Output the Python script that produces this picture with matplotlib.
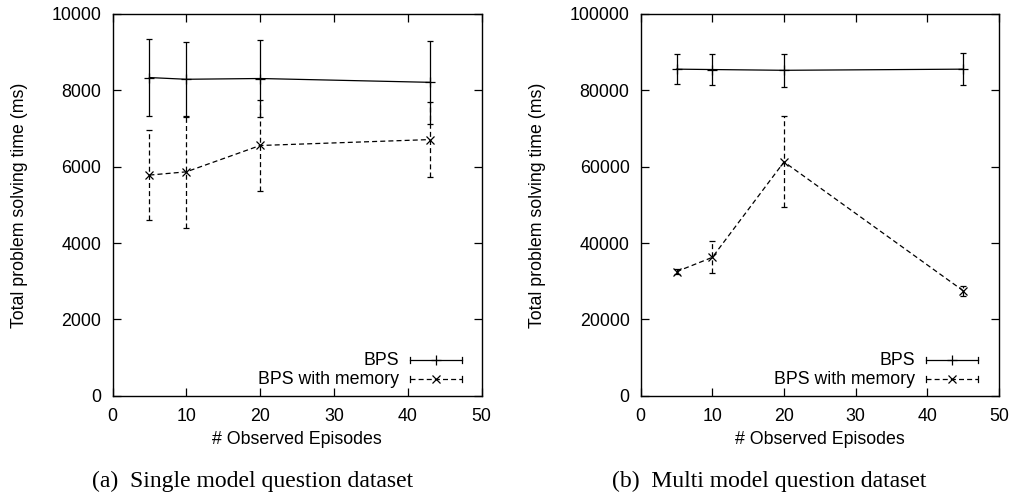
import matplotlib
matplotlib.use("Agg")
import matplotlib.pyplot as plt

# Single model question dataset
single_x_bps = [5, 10, 20, 43]
single_bps = [8335, 8290, 8310, 8210]
single_bps_err = [1000, 980, 1020, 1090]
single_x_mem = [5, 10, 20, 43]
single_mem = [5780, 5865, 6555, 6710]
single_mem_err = [1180, 1465, 1190, 990]

# Multi model question dataset
multi_x_bps = [5, 10, 20, 45]
multi_bps = [85550, 85450, 85250, 85550]
multi_bps_err = [3900, 3980, 4300, 4150]
multi_x_mem = [5, 10, 20, 45]
multi_mem = [32500, 36250, 61250, 27500]
multi_mem_err = [700, 4200, 11900, 1350]

x_ticks = [0, 10, 20, 30, 40, 50]
single_y_ticks = [0, 2000, 4000, 6000, 8000, 10000]
multi_y_ticks = [0, 20000, 40000, 60000, 80000, 100000]

series_labels = ["BPS", "BPS with memory"]
x_label = "# Observed Episodes"
y_label = "Total problem solving time (ms)"
captions = ["(a)  Single model question dataset", "(b)  Multi model question dataset"]

plt.rcParams["font.family"] = ["Liberation Sans", "DejaVu Sans"]

fig = plt.figure(figsize=(10.14, 4.95), dpi=100)
W, H = 1014, 495


def axes_at(x0, y0, x1, y1):
    return fig.add_axes([x0 / W, 1 - y1 / H, (x1 - x0) / W, (y1 - y0) / H])


ax1 = axes_at(112.5, 14, 481.5, 395.7)
ax2 = axes_at(640.7, 14, 999, 395.7)

FS = 12.8
LW = 0.9
CAP = 2.5
DASH = (0, (4, 2.5))


def draw_panel(ax, xb, yb, eb, xm, ym, em, yticks, ymax, legend_text_x,
               legend_line, ylabel_x):
    ax.errorbar(xb, yb, yerr=eb, color="black", lw=LW, elinewidth=LW,
                capsize=CAP, capthick=LW, marker="+", markersize=7, mew=LW)
    cont = ax.errorbar(xm, ym, yerr=em, color="black", lw=LW, elinewidth=LW,
                       capsize=CAP, capthick=LW, marker="x", markersize=6,
                       mew=LW, linestyle=DASH)
    for coll in cont[2]:
        coll.set_linestyle(DASH)

    ax.set_xlim(0, 50)
    ax.set_ylim(0, ymax)
    ax.set_xticks(x_ticks)
    ax.set_yticks(yticks)
    ax.tick_params(direction="in", length=6, width=0.9, top=True, right=True,
                   labelsize=FS, color="black")
    ax.tick_params(axis="y", pad=8)
    ax.tick_params(axis="x", pad=9)
    for s in ax.spines.values():
        s.set_linewidth(1.0)
    ax.set_xlabel(x_label, fontsize=FS)
    ax.set_ylabel(y_label, fontsize=FS)
    ax.xaxis.set_label_coords(0.5, -0.116)
    ax.yaxis.set_label_coords(ylabel_x, 0.5)
    ax.xaxis.label.set_va("center")
    ax.yaxis.label.set_va("center")

    # gnuplot-style key: text right-aligned, sample with end ticks on the right
    x0, x1 = legend_line
    xc = (x0 + x1) / 2
    rows = [0.0935, 0.0437]
    styles = ["-", DASH]
    markers = ["+", "x"]
    for label, yy, ls, mk in zip(series_labels, rows, styles, markers):
        ax.text(legend_text_x, yy, label, transform=ax.transAxes, ha="right",
                va="center", fontsize=FS)
        ax.plot([x0, x1], [yy, yy], transform=ax.transAxes, color="black",
                lw=LW, linestyle=ls, clip_on=False)
        for xe in (x0, x1):
            ax.plot([xe, xe], [yy - 0.009, yy + 0.009], transform=ax.transAxes,
                    color="black", lw=LW, clip_on=False)
        ax.plot([xc], [yy], transform=ax.transAxes, color="black",
                marker=mk, markersize=7 if mk == "+" else 6, mew=LW,
                clip_on=False)


draw_panel(ax1, single_x_bps, single_bps, single_bps_err,
           single_x_mem, single_mem, single_mem_err,
           single_y_ticks, 10000, 0.776, (0.807, 0.948), -0.2507)
draw_panel(ax2, multi_x_bps, multi_bps, multi_bps_err,
           multi_x_mem, multi_mem, multi_mem_err,
           multi_y_ticks, 100000, 0.766, (0.797, 0.940), -0.2894)

fig.text(253 / W, 1 - 481 / H, captions[0], ha="center", va="center",
         fontsize=17, family=["Liberation Serif", "DejaVu Serif"])
fig.text(769 / W, 1 - 481 / H, captions[1], ha="center", va="center",
         fontsize=17, family=["Liberation Serif", "DejaVu Serif"])

fig.savefig("out.png", dpi=100)
